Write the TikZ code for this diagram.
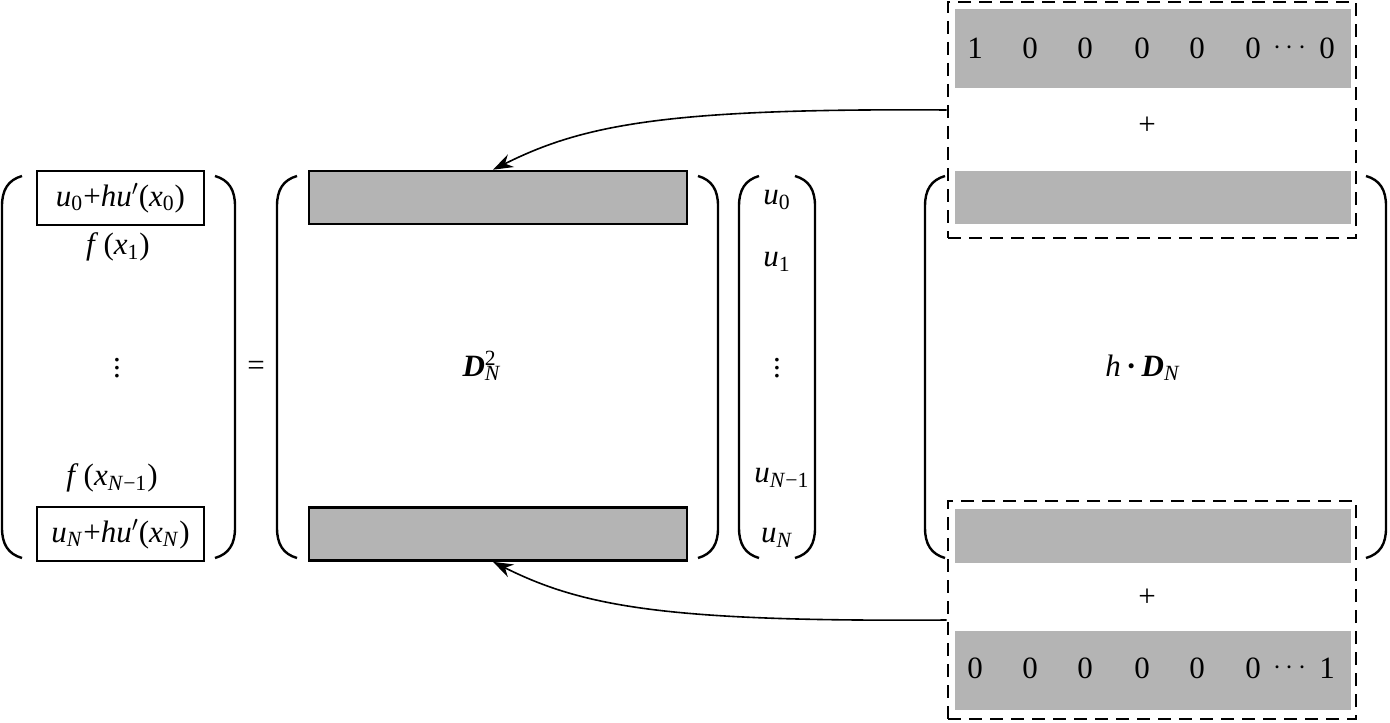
\documentclass[tikz,border=0pt]{standalone}
\usepackage{fontspec}
\setmainfont{Liberation Serif}
\usetikzlibrary{arrows.meta}
\definecolor{bargray}{RGB}{180,180,180}
\tikzset{
  lbl/.style={font=\fontsize{15.5}{18}\selectfont},
  bracket/.style={line width=1.2pt},
  rowbar/.style={fill=bargray,draw=none,minimum width=198pt,inner sep=0pt},
  dmbar/.style={fill=bargray,draw=black,line width=1.3pt,minimum width=189pt,minimum height=26.5pt,inner sep=0pt},
  valbox/.style={draw,line width=1.3pt,minimum width=83.5pt,minimum height=27pt,inner sep=0pt,lbl},
  dashbox/.style={draw,line width=1.3pt,dash pattern=on 6.5pt off 4pt,minimum width=204pt,inner sep=0pt},
  link/.style={line width=0.8pt,-{Stealth[length=10pt,width=7pt]}}
}
% parentheses: x, top, bottom
\newcommand{\lparen}[3]{\draw[bracket] ({#1+20},#2) .. controls ({#1+6},{#2+4}) and (#1,{#2+14}) .. (#1,{#2+30}) -- (#1,{#3-30}) .. controls (#1,{#3-14}) and ({#1+6},{#3-4}) .. ({#1+20},#3);}
\newcommand{\rparen}[3]{\draw[bracket] ({#1-20},#2) .. controls ({#1-6},{#2+4}) and (#1,{#2+14}) .. (#1,{#2+30}) -- (#1,{#3-30}) .. controls (#1,{#3-14}) and ({#1-6},{#3-4}) .. ({#1-20},#3);}
\begin{document}
\begin{tikzpicture}[x=0.5pt,y=-0.5pt]
\useasboundingbox (0,0) rectangle (1390,722);
% left-hand vector
\lparen{2}{176}{558}
\rparen{235}{176}{558}
\node[valbox] (bctop) at (120.5,198) {\textit{u}\textsubscript{0}+\textit{hu}$'$(\textit{x}\textsubscript{0})};
\node[lbl] (fone) at (118,247) {\textit{f}\,(\textit{x}\textsubscript{1})};
\node[lbl] (ldots) at (117,362) {$\vdots$};
\node[lbl] (flast) at (112,478) {\textit{f}\,(\textit{x}\textsubscript{\textit{N}−1})};
\node[valbox] (bcbot) at (120.5,534) {\textit{u}\textsubscript{\textit{N}}+\textit{hu}$'$(\textit{x}\textsubscript{\textit{N}})};
\node[lbl] (eq) at (256,368) {=};
% second derivative matrix
\lparen{277}{176}{558}
\rparen{718}{176}{558}
\node[dmbar] (dtop) at (498,197.5) {};
\node[dmbar] (dbot) at (498,534) {};
\node[lbl] (dsq) at (482,366) {\textbf{\textit{D}}\rlap{\textsuperscript{2}}\textsubscript{\textit{N}}};
% unknowns
\lparen{739}{176}{558}
\rparen{815}{176}{558}
\node[lbl] (uzero) at (777,200) {\textit{u}\textsubscript{0}};
\node[lbl] (uone) at (777,262) {\textit{u}\textsubscript{1}};
\node[lbl] (udots) at (777,362) {$\vdots$};
\node[lbl] (ulast) at (782,478) {\textit{u}\textsubscript{\textit{N}−1}};
\node[lbl] (un) at (777,538) {\textit{u}\textsubscript{\textit{N}}};
% first derivative matrix
\lparen{925}{176}{558}
\rparen{1386}{176}{558}
\node[lbl] (hdn) at (1143,368) {\textit{h}\,\textbf{·}\,\textbf{\textit{D}}\textsubscript{\textit{N}}};
% boundary rows
\node[dashbox,minimum height=118pt] (topdash) at (1152,120) {};
\node[rowbar,minimum height=39.5pt] (rowone) at (1153,48.5) {};
\node[lbl] at (1147,126) {+};
\node[rowbar,minimum height=26.5pt] (rowtwo) at (1153,197.5) {};
\node[dashbox,minimum height=109pt] (botdash) at (1152,610) {};
\node[rowbar,minimum height=27pt] (rowthree) at (1153,536) {};
\node[lbl] at (1147,598) {+};
\node[rowbar,minimum height=39.5pt] (rowfour) at (1153,670.5) {};
\node[lbl] at (975,48) {1};
\node[lbl] at (975,668) {0};
\foreach \x in {1030,1085,1142,1197,1253} {
  \node[lbl] at (\x,48) {0};
  \node[lbl] at (\x,668) {0};
}
\node[lbl] at (1290,48) {$\cdots$};
\node[lbl] at (1290,668) {$\cdots$};
\node[lbl] at (1327,48) {0};
\node[lbl] at (1327,668) {1};
% replacement arrows
\draw[link] ([yshift=5pt]topdash.west) .. controls +(-280,-2) and +(90,-45) .. ([xshift=-2.5pt]dtop.north);
\draw[link] ([yshift=-5pt]botdash.west) .. controls +(-280,2) and +(90,45) .. ([xshift=-2.5pt]dbot.south);
\end{tikzpicture}
\end{document}
